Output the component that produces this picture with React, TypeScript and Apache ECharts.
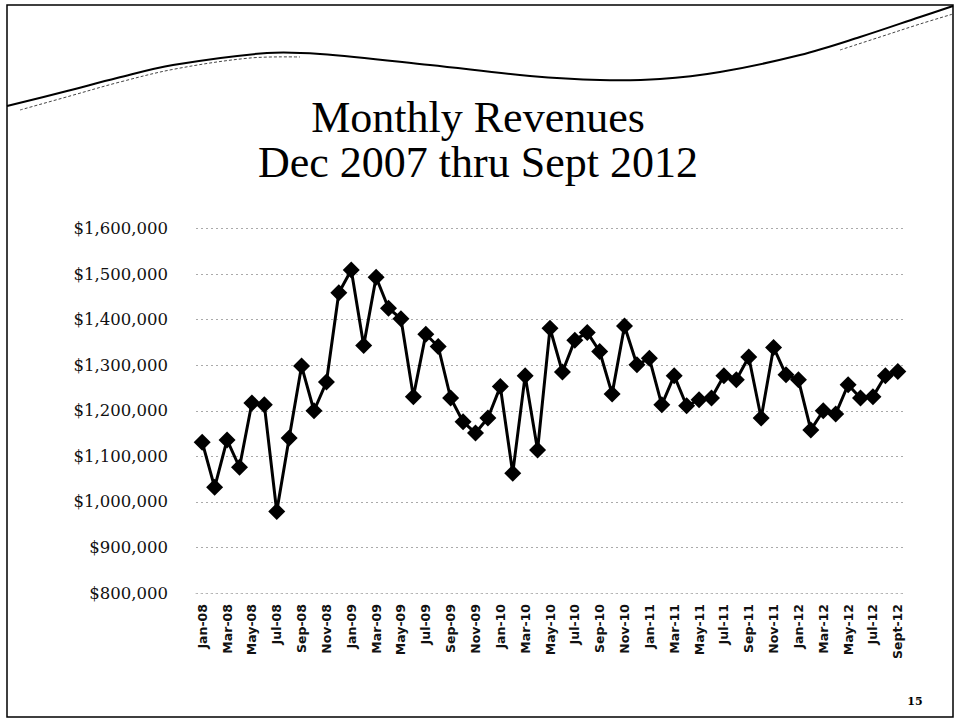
import React, { useEffect, useRef } from "react";
import * as echarts from "echarts";

const titleLines = ["Monthly Revenues", "Dec 2007 thru Sept 2012"];
const pageNumber = "15";

const months: string[] = [
  "Jan-08", "Feb-08", "Mar-08", "Apr-08", "May-08", "Jun-08", "Jul-08", "Aug-08", "Sep-08", "Oct-08", "Nov-08", "Dec-08",
  "Jan-09", "Feb-09", "Mar-09", "Apr-09", "May-09", "Jun-09", "Jul-09", "Aug-09", "Sep-09", "Oct-09", "Nov-09", "Dec-09",
  "Jan-10", "Feb-10", "Mar-10", "Apr-10", "May-10", "Jun-10", "Jul-10", "Aug-10", "Sep-10", "Oct-10", "Nov-10", "Dec-10",
  "Jan-11", "Feb-11", "Mar-11", "Apr-11", "May-11", "Jun-11", "Jul-11", "Aug-11", "Sep-11", "Oct-11", "Nov-11", "Dec-11",
  "Jan-12", "Feb-12", "Mar-12", "Apr-12", "May-12", "Jun-12", "Jul-12", "Aug-12", "Sept-12",
];

const revenues: number[] = [
  1131000, 1032000, 1136000, 1076000, 1217000, 1213000, 979000, 1140000, 1298000, 1200000, 1263000, 1459000,
  1509000, 1343000, 1493000, 1425000, 1402000, 1231000, 1368000, 1341000, 1228000, 1176000, 1151000, 1184000,
  1253000, 1063000, 1277000, 1114000, 1381000, 1285000, 1355000, 1372000, 1330000, 1237000, 1386000, 1301000,
  1315000, 1213000, 1277000, 1211000, 1224000, 1228000, 1277000, 1268000, 1318000, 1184000, 1339000, 1279000,
  1268000, 1158000, 1200000, 1193000, 1257000, 1228000, 1231000, 1277000, 1286000,
];

const yMin = 800000;
const yMax = 1600000;
const yStep = 100000;

export default function App() {
  const ref = useRef<HTMLDivElement>(null);
  useEffect(() => {
    if (!ref.current) return;
    const chart = echarts.init(ref.current, undefined, { renderer: "svg" });
    chart.setOption({
      animation: false,
      backgroundColor: "#ffffff",
      grid: { left: 196, right: 52, top: 228.5, bottom: 126, containLabel: false },
      xAxis: {
        type: "category",
        data: months,
        boundaryGap: true,
        axisLine: { show: true, lineStyle: { color: "#bbb", type: [1, 4] } },
        axisTick: { show: false },
        axisLabel: {
          interval: 1,
          rotate: 90,
          margin: 11,
          fontFamily: "DejaVu Sans",
          fontSize: 12.5,
          fontWeight: "bold",
          color: "#111",
        },
        splitLine: { show: false },
      },
      yAxis: {
        type: "value",
        min: yMin,
        max: yMax,
        interval: yStep,
        axisLine: { show: false },
        axisTick: { show: false },
        axisLabel: {
          margin: 28,
          fontFamily: "DejaVu Serif",
          fontSize: 16.5,
          color: "#111",
          formatter: (v: number) => "$" + v.toLocaleString("en-US"),
        },
        splitLine: { show: true, lineStyle: { color: "#aaa", width: 1, type: [2, 3] } },
      },
      series: [
        {
          type: "line",
          data: revenues,
          symbol: "diamond",
          symbolSize: 17,
          showAllSymbol: true,
          lineStyle: { color: "#000", width: 3 },
          itemStyle: { color: "#000" },
        },
      ],
      graphic: [
        {
          type: "rect",
          shape: { x: 7, y: 5, width: 946, height: 712 },
          style: { fill: "none", stroke: "#000", lineWidth: 1.5 },
          silent: true,
        },
        {
          type: "polyline",
          shape: {
            points: [
              [7, 106], [67, 91], [117, 78], [173, 65], [267, 53], [320, 54], [430, 65], [530, 76],
              [600, 80], [660, 79], [720, 72], [800, 55], [860, 37], [920, 17], [953, 6],
            ],
            smooth: 0.35,
          },
          style: { fill: "none", stroke: "#000", lineWidth: 2 },
          silent: true,
        },
        {
          type: "polyline",
          shape: {
            points: [
              [20, 110], [70, 96], [120, 82], [175, 69], [250, 58], [300, 57],
            ],
            smooth: 0.35,
          },
          style: { fill: "none", stroke: "#444", lineWidth: 1, lineDash: [3, 2] },
          silent: true,
        },
        {
          type: "polyline",
          shape: {
            points: [
              [840, 50], [880, 37], [920, 24], [953, 14],
            ],
            smooth: 0.35,
          },
          style: { fill: "none", stroke: "#444", lineWidth: 1, lineDash: [3, 2] },
          silent: true,
        },
        {
          type: "text",
          x: 478,
          y: 117,
          style: {
            text: titleLines[0],
            fontFamily: "Liberation Serif",
            fontSize: 44,
            lineHeight: 44,
            fill: "#000",
            align: "center",
            verticalAlign: "middle",
          },
        },
        {
          type: "text",
          x: 478,
          y: 162,
          style: {
            text: titleLines[1],
            fontFamily: "Liberation Serif",
            fontSize: 44,
            lineHeight: 44,
            fill: "#000",
            align: "center",
            verticalAlign: "middle",
          },
        },
        {
          type: "text",
          x: 915,
          y: 701,
          style: {
            text: pageNumber,
            fontFamily: "DejaVu Serif",
            fontSize: 11,
            fontWeight: "bold",
            fill: "#000",
            align: "center",
            verticalAlign: "middle",
          },
        },
      ],
    });
    return () => chart.dispose();
  }, []);
  return (
    <div
      ref={ref}
      style={{ position: "fixed", left: 0, top: 0, width: 956, height: 719 }}
    />
  );
}
